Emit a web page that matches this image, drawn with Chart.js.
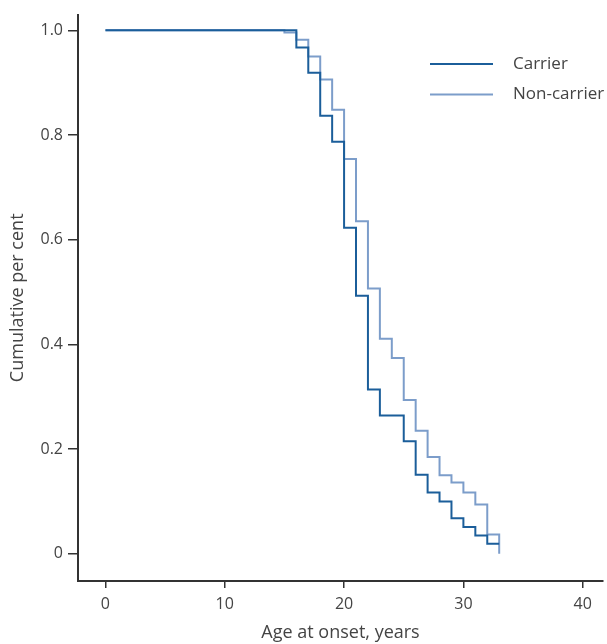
<!DOCTYPE html>
<html>
<head>
<meta charset="utf-8">
<title>Age at onset</title>
<script src="https://cdn.jsdelivr.net/npm/chart.js@4.4.0/dist/chart.umd.min.js"></script>
<style>
    body { margin: 0; background: #fff; }
    #wrap { width: 607px; height: 644px; }
</style>
</head>
<body>
<div id="wrap"><canvas id="onsetChart" width="607" height="644"></canvas></div>
<script>
// Age at onset (years) where either curve steps
const ages = [0, 15, 16, 17, 18, 19, 20, 21, 22, 23, 24, 25, 26, 27, 28, 29, 30, 31, 32, 33];

// Cumulative proportion still without onset
const carrier    = [1.0, 1.0, 0.967, 0.919, 0.837, 0.787, 0.623, 0.493, 0.314, 0.264, 0.264, 0.215, 0.151, 0.117, 0.100, 0.068, 0.051, 0.035, 0.019, 0.019];
const nonCarrier = [1.0, 0.996, 0.982, 0.950, 0.906, 0.848, 0.754, 0.635, 0.507, 0.411, 0.374, 0.294, 0.235, 0.185, 0.150, 0.136, 0.117, 0.094, 0.037, 0.0];

const seriesNames = ['Carrier', 'Non-carrier'];

// Tick labels
const xTicks = [0, 10, 20, 30, 40];
const yTicks = [0, 0.2, 0.4, 0.6, 0.8, 1.0];

// Colours
const carrierColor = '#1b5e9a';
const nonCarrierColor = '#7c9dca';
const axisColor = '#333333';
const textColor = '#444444';
const fontFamily = '"Open Sans", "Noto Sans", sans-serif';

function toPoints(values) {
    return ages.map((age, i) => ({ x: age, y: values[i] }));
}

// Legend drawn inside the plot, top right
const insideLegend = {
    id: 'insideLegend',
    afterDraw(chart) {
        const ctx = chart.ctx;
        const area = chart.chartArea;
        const lineStart = area.right - 173;
        const lineEnd = area.right - 110;
        chart.data.datasets.forEach((ds, i) => {
            const y = area.top + 49.5 + i * 30.5;
            ctx.save();
            ctx.strokeStyle = ds.borderColor;
            ctx.lineWidth = 2;
            ctx.beginPath();
            ctx.moveTo(lineStart, y);
            ctx.lineTo(lineEnd, y);
            ctx.stroke();
            ctx.fillStyle = textColor;
            ctx.font = '17px ' + fontFamily;
            ctx.textBaseline = 'middle';
            ctx.fillText(ds.label, lineEnd + 20, y);
            ctx.restore();
        });
    }
};

const ctx = document.getElementById('onsetChart');
new Chart(ctx, {
    type: 'line',
    data: {
        datasets: [
            {
                label: seriesNames[0],
                data: toPoints(carrier),
                borderColor: carrierColor,
                borderWidth: 2,
                stepped: 'before',
                pointRadius: 0,
                fill: false,
                order: 1
            },
            {
                label: seriesNames[1],
                data: toPoints(nonCarrier),
                borderColor: nonCarrierColor,
                borderWidth: 2,
                stepped: 'before',
                pointRadius: 0,
                fill: false,
                order: 2
            }
        ]
    },
    options: {
        responsive: false,
        animation: false,
        layout: { padding: { top: 13, right: 4, left: 0, bottom: 0 } },
        plugins: {
            legend: { display: false },
            tooltip: { enabled: false }
        },
        scales: {
            x: {
                type: 'linear',
                min: -2.3,
                max: 41.7,
                afterBuildTicks: scale => { scale.ticks = xTicks.map(v => ({ value: v })); },
                afterFit: scale => { scale.height = 63; },
                grid: {
                    display: true,
                    drawOnChartArea: false,
                    drawTicks: true,
                    tickLength: 7,
                    color: axisColor,
                    lineWidth: 1.5
                },
                border: { display: true, color: axisColor, width: 2 },
                ticks: {
                    color: textColor,
                    padding: 7,
                    font: { family: fontFamily, size: 16 },
                    maxRotation: 0
                },
                title: {
                    display: true,
                    text: 'Age at onset, years',
                    color: textColor,
                    font: { family: fontFamily, size: 18 },
                    padding: { top: 1, bottom: 0 }
                }
            },
            y: {
                type: 'linear',
                min: -0.052,
                max: 1.03,
                afterBuildTicks: scale => { scale.ticks = yTicks.map(v => ({ value: v })); },
                afterFit: scale => { scale.width = 78; },
                grid: {
                    display: true,
                    drawOnChartArea: false,
                    drawTicks: true,
                    tickLength: 10,
                    color: axisColor,
                    lineWidth: 1.5
                },
                border: { display: true, color: axisColor, width: 2 },
                ticks: {
                    color: textColor,
                    padding: 5,
                    font: { family: fontFamily, size: 16 },
                    callback: v => (v === 0 ? '0' : v.toFixed(1))
                },
                title: {
                    display: true,
                    text: 'Cumulative per cent',
                    color: textColor,
                    font: { family: fontFamily, size: 18 },
                    padding: { top: 7, bottom: 0 }
                }
            }
        }
    },
    plugins: [insideLegend]
});
</script>
</body>
</html>
